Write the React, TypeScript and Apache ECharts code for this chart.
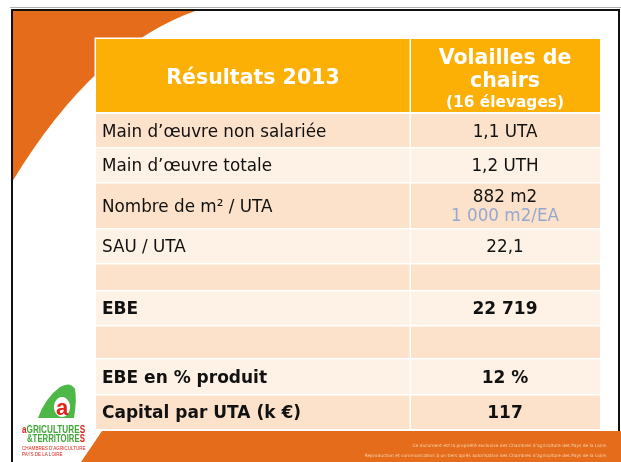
import React, { useEffect, useRef } from "react";
import * as echarts from "echarts";

// ---- Table content ----
const TITLE = "Résultats 2013";
const COLUMN_TITLE = ["Volailles de", "chairs"];
const COLUMN_SUBTITLE = "(16 élevages)";
const ROW_LABELS = [
  "Main d’œuvre non salariée",
  "Main d’œuvre totale",
  "Nombre de m² / UTA",
  "SAU / UTA",
  "",
  "EBE",
  "",
  "EBE en % produit",
  "Capital par UTA (k €)",
];
const ROW_VALUES = ["1,1 UTA", "1,2 UTH", "882 m2", "22,1", "", "22 719", "", "12 %", "117"];
const ROW_NOTES = ["", "", "1 000 m2/EA", "", "", "", "", "", ""];
const ROW_BOLD = [false, false, false, false, false, true, false, true, true];
const FOOTER_LINES = [
  "Ce document est la propriété exclusive des Chambres d’agriculture des Pays de la Loire.",
  "Reproduction et communication à un tiers après autorisation des Chambres d’agriculture des Pays de la Loire.",
];
const LOGO_SUB_LINES = ["CHAMBRES D’AGRICULTURE", "PAYS DE LA LOIRE"];

// ---- Layout ----
const TABLE_LEFT = 96;
const COL_SPLIT = 410;
const TABLE_RIGHT = 600;
const HEADER_TOP = 39;
const ROW_BOTTOMS = [112, 147, 182, 228, 263, 290, 325, 358, 394, 429];

const ORANGE = "#E46C1A";
const HEADER = "#FCAF05";
const PEACH = "#FDE2CB";
const LIGHT = "#FEF1E6";
const INK = "#111111";
const NOTE = "#95A8CF";
const FONT = "'DejaVu Sans', Verdana, sans-serif";
const NARROW = "'Liberation Sans Narrow', 'Liberation Sans', sans-serif";

echarts.graphic.registerShape(
  "cornerArc",
  echarts.graphic.extendPath("M12 10 L198 10 Q95 45 12 182 Z", {})
);
echarts.graphic.registerShape(
  "logoLeaf",
  echarts.graphic.extendPath(
    "M38 418 Q45 398 60 387 Q70 381 75 389 Q77 400 74 418 Z",
    {}
  )
);

function txt(x: number, y: number, text: string, font: string, fill: string, align = "left", extra: any = {}) {
  return {
    type: "text",
    x,
    y,
    ...extra,
    style: {
      text,
      x: 0,
      y: 0,
      font,
      fill,
      textAlign: align,
      textVerticalAlign: "middle",
      align,
      verticalAlign: "middle",
    },
  };
}

export default function App() {
  const ref = useRef<HTMLDivElement>(null);
  useEffect(() => {
    const chart = echarts.init(ref.current!, null, { renderer: "svg" });
    const g: any[] = [];

    // slide background and decorations
    g.push({ type: "rect", shape: { x: 0, y: 0, width: 621, height: 462 }, style: { fill: "#ffffff" } });
    g.push({ type: "line", shape: { x1: 10, y1: 7.5, x2: 621, y2: 7.5 }, style: { stroke: "#B0B0B0", lineWidth: 1 } });
    g.push({ type: "cornerArc", x: 0, y: 0, style: { fill: ORANGE } });
    g.push({
      type: "rect",
      shape: { x: 12, y: 10, width: 607, height: 460 },
      style: { fill: "none", stroke: "#111111", lineWidth: 2 },
    });
    g.push({
      type: "polygon",
      shape: { points: [[102, 431], [621, 431], [621, 462], [81, 462]] },
      style: { fill: ORANGE },
    });

    // table white backing
    g.push({
      type: "rect",
      shape: { x: TABLE_LEFT - 1.5, y: HEADER_TOP - 1.5, width: TABLE_RIGHT - TABLE_LEFT + 3, height: ROW_BOTTOMS[ROW_BOTTOMS.length - 1] - HEADER_TOP + 3 },
      style: { fill: "#ffffff" },
    });

    // header cells
    const hb = ROW_BOTTOMS[0];
    g.push({ type: "rect", shape: { x: TABLE_LEFT, y: HEADER_TOP, width: COL_SPLIT - 0.5 - TABLE_LEFT, height: hb - HEADER_TOP }, style: { fill: HEADER } });
    g.push({ type: "rect", shape: { x: COL_SPLIT + 1, y: HEADER_TOP, width: TABLE_RIGHT - COL_SPLIT - 1, height: hb - HEADER_TOP }, style: { fill: HEADER } });
    const c1 = (TABLE_LEFT + COL_SPLIT) / 2;
    const c2 = (COL_SPLIT + TABLE_RIGHT) / 2;
    g.push(txt(c1, 77, TITLE, `bold 20.5px ${FONT}`, "#ffffff", "center"));
    g.push(txt(c2, 57, COLUMN_TITLE[0], `bold 20.5px ${FONT}`, "#ffffff", "center"));
    g.push(txt(c2, 80, COLUMN_TITLE[1], `bold 20.5px ${FONT}`, "#ffffff", "center"));
    g.push(txt(c2, 102, COLUMN_SUBTITLE, `bold 15.4px ${FONT}`, "#ffffff", "center"));

    // body rows
    ROW_LABELS.forEach((label, i) => {
      const top = ROW_BOTTOMS[i] + (i === 0 ? 2 : 1.5);
      const bottom = ROW_BOTTOMS[i + 1];
      const fill = i % 2 === 0 ? PEACH : LIGHT;
      g.push({ type: "rect", shape: { x: TABLE_LEFT, y: top, width: COL_SPLIT - 0.5 - TABLE_LEFT, height: bottom - top }, style: { fill } });
      g.push({ type: "rect", shape: { x: COL_SPLIT + 1, y: top, width: TABLE_RIGHT - COL_SPLIT - 1, height: bottom - top }, style: { fill } });
      const mid = (top + bottom) / 2;
      const font = `${ROW_BOLD[i] ? "bold " : ""}${ROW_BOLD[i] ? 17 : 16.8}px ${FONT}`;
      if (label) g.push(txt(102, mid, label, font, INK, "left"));
      if (ROW_NOTES[i]) {
        g.push(txt(c2, mid - 10, ROW_VALUES[i], font, INK, "center"));
        g.push(txt(c2, mid + 9, ROW_NOTES[i], `16.8px ${FONT}`, NOTE, "center"));
      } else if (ROW_VALUES[i]) {
        g.push(txt(c2, mid, ROW_VALUES[i], font, INK, "center"));
      }
    });

    // footer text
    g.push(txt(607, 445, FOOTER_LINES[0], `4.4px ${FONT}`, "#F9D0B0", "right"));
    g.push(txt(607, 455, FOOTER_LINES[1], `4.4px ${FONT}`, "#F9D0B0", "right"));

    // logo
    g.push({ type: "logoLeaf", x: 0, y: 0, style: { fill: "#4DB848" } });
    g.push({ type: "ellipse", shape: { cx: 62, cy: 407, rx: 8, ry: 10 }, style: { fill: "#ffffff" } });
    g.push(txt(62, 407, "a", `bold 22px ${NARROW}`, "#E2231A", "center"));
    g.push({
      type: "text",
      x: 22,
      y: 429.5,
      scaleX: 0.82,
      style: {
        text: "{r|a}{g|GRICULTURE}{r|S}",
        x: 0,
        y: 0,
        textVerticalAlign: "middle",
        verticalAlign: "middle",
        rich: {
          r: { fill: "#E2231A", font: `bold 10px ${NARROW}` },
          g: { fill: "#3FA535", font: `bold 10px ${NARROW}` },
        },
      },
    });
    g.push({
      type: "text",
      x: 27,
      y: 438.5,
      scaleX: 0.78,
      style: {
        text: "{g|&TERRITOIRE}{r|S}",
        x: 0,
        y: 0,
        textVerticalAlign: "middle",
        verticalAlign: "middle",
        rich: {
          r: { fill: "#E2231A", font: `bold 10px ${NARROW}` },
          g: { fill: "#3FA535", font: `bold 10px ${NARROW}` },
        },
      },
    });
    g.push(txt(22, 448, LOGO_SUB_LINES[0], `6px ${NARROW}`, "#E2231A", "left", { scaleX: 0.76 }));
    g.push(txt(22, 453.5, LOGO_SUB_LINES[1], `6px ${NARROW}`, "#E2231A", "left", { scaleX: 0.76 }));

    chart.setOption({ animation: false, graphic: { elements: g } });
    return () => chart.dispose();
  }, []);
  return <div ref={ref} style={{ position: "fixed", left: 0, top: 0, width: 621, height: 462 }} />;
}
